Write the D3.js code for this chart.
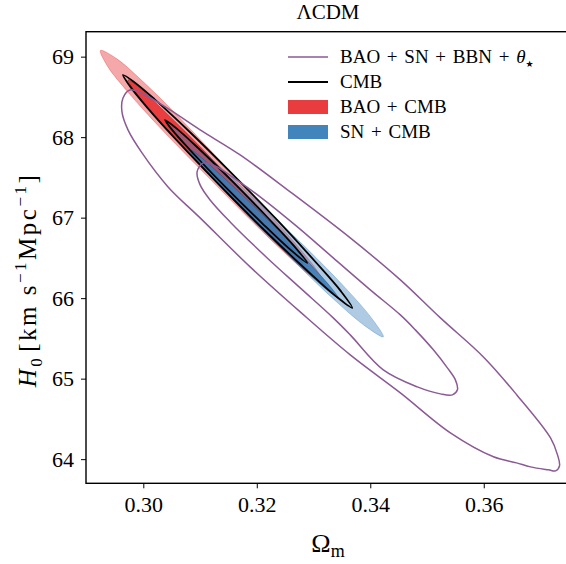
<!DOCTYPE html>
<html>
<head>
<meta charset="utf-8">
<script src="https://cdn.jsdelivr.net/npm/d3@7"></script>
<style>
  body { margin: 0; background: #fff; }
  svg { display: block; }
  text { font-family: "Liberation Serif", "DejaVu Serif", serif; fill: #000; }
</style>
</head>
<body>
<svg id="chart" width="566" height="564"></svg>
<script>
// Omega_m, H0 points read around each contour
const baoCmb2 = [
  [0.29245, 69.077], [0.29527, 68.976], [0.29961, 68.712], [0.30573, 68.288], [0.31357, 67.703],
  [0.32135, 67.114], [0.32702, 66.660], [0.33060, 66.345], [0.33206, 66.165], [0.32957, 66.275],
  [0.32525, 66.541], [0.31906, 66.960], [0.31103, 67.532], [0.30305, 68.110], [0.29732, 68.558],
  [0.29375, 68.875]
];
const baoCmb1 = [
  [0.29730, 68.711], [0.29922, 68.621], [0.30251, 68.404], [0.30734, 68.072], [0.31357, 67.618],
  [0.31969, 67.153], [0.32412, 66.796], [0.32696, 66.550], [0.32818, 66.413], [0.32631, 66.506],
  [0.32298, 66.720], [0.31814, 67.051], [0.31191, 67.506], [0.30579, 67.970], [0.30136, 68.328],
  [0.29846, 68.570]
];
const snCmb2 = [
  [0.30506, 68.114], [0.30731, 68.011], [0.31325, 67.649], [0.32095, 67.147], [0.32852, 66.637],
  [0.33584, 66.109], [0.34030, 65.745], [0.34230, 65.519], [0.33907, 65.655], [0.33386, 65.967],
  [0.32629, 66.478], [0.31897, 67.005], [0.31177, 67.542], [0.30655, 67.958]
];
const snCmb1 = [
  [0.30789, 67.866], [0.30946, 67.790], [0.31368, 67.528], [0.32181, 66.983], [0.32956, 66.411],
  [0.33328, 66.114], [0.33436, 66.003], [0.33279, 66.079], [0.32857, 66.341], [0.32043, 66.886],
  [0.31269, 67.459], [0.30896, 67.756]
];
const cmb2 = [
  [0.29642, 68.773], [0.29841, 68.683], [0.30196, 68.473], [0.30746, 68.114], [0.31567, 67.544],
  [0.32370, 66.962], [0.33032, 66.452], [0.33485, 66.084], [0.33683, 65.879], [0.33397, 66.022],
  [0.32880, 66.347], [0.32167, 66.822], [0.31353, 67.397], [0.30558, 67.984], [0.30058, 68.377],
  [0.29767, 68.631]
];
const cmb1 = [
  [0.30383, 68.214], [0.30558, 68.124], [0.30928, 67.890], [0.31567, 67.454], [0.32186, 67.005],
  [0.32670, 66.638], [0.32889, 66.438], [0.32606, 66.593], [0.32087, 66.936], [0.31454, 67.376],
  [0.30840, 67.828], [0.30508, 68.090]
];
const late2 = [
  [0.29765, 68.586], [0.30030, 68.524], [0.30471, 68.338], [0.31001, 68.090], [0.31706, 67.779],
  [0.32589, 67.320], [0.33647, 66.748], [0.34530, 66.227], [0.35236, 65.755], [0.35994, 65.270],
  [0.36583, 64.798], [0.37177, 64.264], [0.37300, 64.053], [0.37335, 63.917], [0.37265, 63.855],
  [0.37141, 63.867], [0.36824, 63.904], [0.36577, 63.954], [0.36171, 64.029], [0.35412, 64.326],
  [0.34530, 64.823], [0.33647, 65.295], [0.32765, 65.829], [0.31883, 66.388], [0.31001, 66.997],
  [0.30436, 67.382], [0.29977, 67.804], [0.29730, 68.090], [0.29624, 68.313], [0.29642, 68.487]
];
const late1 = [
  [0.31053, 67.680], [0.31265, 67.643], [0.31618, 67.481], [0.32059, 67.258], [0.32695, 66.897],
  [0.33347, 66.500], [0.34000, 66.103], [0.34530, 65.792], [0.34794, 65.606], [0.35112, 65.358],
  [0.35359, 65.134], [0.35500, 64.985], [0.35536, 64.861], [0.35447, 64.799], [0.35236, 64.811],
  [0.34830, 64.898], [0.34230, 65.109], [0.33647, 65.544], [0.33347, 65.755], [0.32765, 66.127],
  [0.32165, 66.512], [0.31530, 66.947], [0.31177, 67.220], [0.31001, 67.407], [0.30948, 67.568]
];

const xTicks = [0.30, 0.32, 0.34, 0.36];
const yTicks = [64, 65, 66, 67, 68, 69];
const legendNames = ["BAO + SN + BBN + ", "CMB", "BAO + CMB", "SN + CMB"];

const purple = "#8a5a94";
const red = "#e41a1c";
const blue = "#377eb8";

const svg = d3.select("#chart");

const x = d3.scaleLinear().domain([0.2899, 0.3752]).range([86, 570]);
const y = d3.scaleLinear().domain([63.70, 69.31]).range([483.3, 31.7]);

const line = d3.line()
  .x(d => x(d[0]))
  .y(d => y(d[1]))
  .curve(d3.curveCatmullRomClosed.alpha(0.5));

const plot = svg.append("g");

// BAO + CMB filled
plot.append("path").attr("d", line(baoCmb2))
  .attr("fill", red).attr("fill-opacity", 0.38)
  .attr("stroke", red).attr("stroke-opacity", 0.3).attr("stroke-width", 1);
plot.append("path").attr("d", line(baoCmb1))
  .attr("fill", red).attr("fill-opacity", 0.75)
  .attr("stroke", "#8b1a1c").attr("stroke-opacity", 0.5).attr("stroke-width", 1);

// SN + CMB filled
plot.append("path").attr("d", line(snCmb2))
  .attr("fill", blue).attr("fill-opacity", 0.4)
  .attr("stroke", blue).attr("stroke-opacity", 0.35).attr("stroke-width", 1);
plot.append("path").attr("d", line(snCmb1))
  .attr("fill", blue).attr("fill-opacity", 0.85)
  .attr("stroke", "#1f4f7a").attr("stroke-opacity", 0.5).attr("stroke-width", 1);

// CMB alone
[cmb2, cmb1].forEach(c => {
  plot.append("path").attr("d", line(c))
    .attr("fill", "none").attr("stroke", "#000").attr("stroke-width", 1.8);
});

// BAO + SN + BBN + theta
[late2, late1].forEach(c => {
  plot.append("path").attr("d", line(c))
    .attr("fill", "none").attr("stroke", purple).attr("stroke-width", 1.5);
});

// axes
const xAxis = svg.append("g")
  .attr("transform", "translate(0,483.3)")
  .call(d3.axisBottom(x).tickValues(xTicks).tickFormat(d3.format(".2f")).tickSize(5).tickPadding(8));
const yAxis = svg.append("g")
  .attr("transform", "translate(86,0)")
  .call(d3.axisLeft(y).tickValues(yTicks).tickFormat(d3.format("d")).tickSize(5).tickPadding(7));
[xAxis, yAxis].forEach(a => {
  a.select(".domain").remove();
  a.selectAll(".tick line").attr("stroke", "#000").attr("stroke-width", 1);
  a.selectAll(".tick text").style("font-size", "22px").attr("fill", "#000");
});

// frame
svg.append("rect")
  .attr("x", 86).attr("y", 31.7)
  .attr("width", 484).attr("height", 451.6)
  .attr("fill", "none").attr("stroke", "#000").attr("stroke-width", 1.4);

// title and labels
svg.append("text").attr("x", 328).attr("y", 19)
  .attr("text-anchor", "middle").style("font-size", "21px").text("ΛCDM");

const xl = svg.append("text").attr("x", 328).attr("y", 552)
  .attr("text-anchor", "middle").style("font-size", "26px");
xl.append("tspan").text("Ω");
xl.append("tspan").attr("dy", 5).style("font-size", "18px").text("m");

const yl = svg.append("text")
  .attr("transform", "translate(36,280) rotate(-90)")
  .attr("text-anchor", "middle").style("font-size", "25px").style("letter-spacing", "2.5px");
yl.append("tspan").style("font-style", "italic").text("H");
yl.append("tspan").attr("dy", 6).style("font-size", "17px").text("0");
yl.append("tspan").attr("dy", -6).attr("dx", 4).text("[km s");
yl.append("tspan").attr("dy", -10).style("font-size", "17px").text("−1");
yl.append("tspan").attr("dy", 10).text("Mpc");
yl.append("tspan").attr("dy", -10).style("font-size", "17px").text("−1");
yl.append("tspan").attr("dy", 10).text("]");

// legend
const lg = svg.append("g");
const rowY = [57, 82, 107, 132];
lg.append("line").attr("x1", 288).attr("x2", 328).attr("y1", rowY[0]).attr("y2", rowY[0])
  .attr("stroke", purple).attr("stroke-width", 1.5);
lg.append("line").attr("x1", 288).attr("x2", 328).attr("y1", rowY[1]).attr("y2", rowY[1])
  .attr("stroke", "#000").attr("stroke-width", 1.8);
lg.append("rect").attr("x", 288).attr("y", rowY[2] - 7).attr("width", 40).attr("height", 14)
  .attr("fill", red).attr("fill-opacity", 0.85);
lg.append("rect").attr("x", 288).attr("y", rowY[3] - 7).attr("width", 40).attr("height", 14)
  .attr("fill", blue).attr("fill-opacity", 0.95);

legendNames.forEach((n, i) => {
  const t = lg.append("text").attr("x", 340).attr("y", rowY[i] + 6)
    .style("font-size", "19px").style("word-spacing", "2px").text(n);
  if (i === 0) {
    t.append("tspan").style("font-style", "italic").text("θ");
    t.append("tspan").attr("dy", 4).style("font-size", "9px")
      .style("font-family", "'DejaVu Sans', sans-serif").text("★");
  }
});
</script>
</body>
</html>
